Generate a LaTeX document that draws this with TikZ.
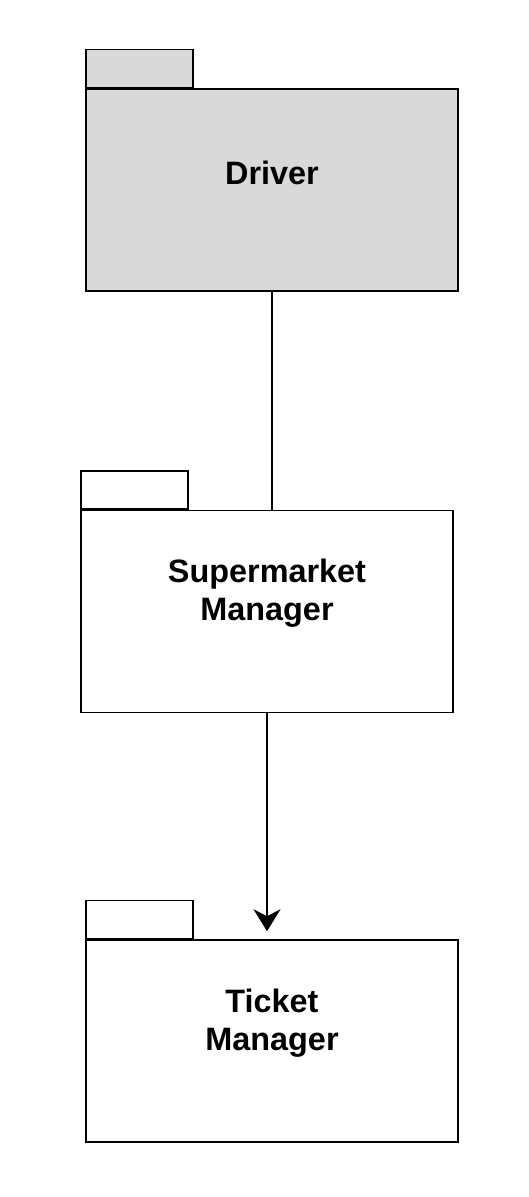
\documentclass[tikz,border=0pt]{standalone}
\usepackage{fontspec}
\setmainfont{Liberation Sans}
\usetikzlibrary{positioning,arrows.meta}
\definecolor{pkggray}{HTML}{D9D9D9}

\begin{document}
\begin{tikzpicture}[x=1pt, y=-1pt, line width=1.5pt, node distance=218pt,
        pkg/.style={draw, rectangle, minimum width=372pt, minimum height=202pt, inner sep=0pt},
        pkgtab/.style={draw, rectangle, minimum width=107pt, minimum height=38pt, inner sep=0pt, anchor=south west},
        pkgtext/.style={align=center, font=\fontsize{32.4}{38}\selectfont\bfseries}]
        \useasboundingbox (0,0) rectangle (528,1197);

        \node (drv) [pkg, fill=pkggray] at (272,190) {};
        \node (drvtab) [pkgtab, fill=pkggray] at (drv.north west) {};
        \node (drvtxt) [pkgtext] at ([yshift=17pt]drv.center) {Driver};

        \node (smgr) [pkg, below=218pt of drv, xshift=-5pt] {};
        \node (smgrtab) [pkgtab] at (smgr.north west) {};
        \node (smgrtxt) [pkgtext] at ([yshift=18pt]smgr.center) {Supermarket\\Manager};

        \node (tkt) [pkg, below=226pt of smgr, xshift=5pt] {};
        \node (tkttab) [pkgtab] at (tkt.north west) {};
        \node (tkttxt) [pkgtext] at ([yshift=18pt]tkt.center) {Ticket\\Manager};

        \draw (drv.south) -- (drv.south |- smgr.north);
        \draw[-{Stealth[length=22pt, width=27pt, inset=7pt]}] (smgr.south) -- ([yshift=8pt]smgr.south |- tkt.north);
    \end{tikzpicture}
\end{document}
